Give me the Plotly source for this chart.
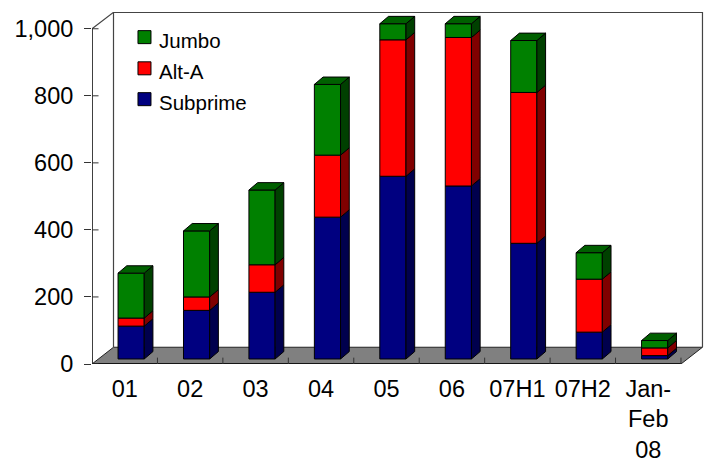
import plotly.graph_objects as go

categories = ["01", "02", "03", "04", "05", "06", "07H1", "07H2", "Jan-<br>Feb<br>08"]
subprime = [98, 145, 199, 423, 545, 516, 345, 80, 10]
alt_a = [24, 40, 82, 185, 407, 443, 450, 158, 23]
jumbo = [134, 197, 223, 211, 48, 41, 155, 79, 22]
y_ticks = [0, 200, 400, 600, 800, 1000]
y_labels = ["0", "200", "400", "600", "800", "1,000"]

W, H = 705, 459
ML, MR, MT, MB = 92, 0, 12, 94.5
XMAX, YMAX = 9.367, 1050
# 3D look, in axis units
WALL_DX, WALL_DY = 0.3285, 50
BAR_SHIFT, BAR_BASE, BAR_W = 0.098, 15, 0.40
SIDE_DX, SIDE_DY = 0.133, 22
# legend layout, in axis units
LEG_X, LEG_TEXT_X = 0.802, 0.99
LEG_Y = [975, 882, 790]

xs = [i + 0.5 + BAR_SHIFT for i in range(len(categories))]
series = [
    ("Subprime", subprime, "#000080", "#00004D"),
    ("Alt-A", alt_a, "#FF0000", "#800000"),
    ("Jumbo", jumbo, "#008000", "#004000"),
]
TOP_COLOR = "#006000"

fig = go.Figure()
bases = [BAR_BASE] * len(categories)
for name, vals, col, side in series:
    fig.add_trace(go.Bar(
        x=xs, y=vals, base=list(bases), name=name, width=BAR_W, showlegend=False,
        marker=dict(color=col, line=dict(color="black", width=1)),
    ))
    px, py = [], []
    for x, b, v in zip(xs, bases, vals):
        xr = x + BAR_W / 2
        px += [xr, xr + SIDE_DX, xr + SIDE_DX, xr, xr, None]
        py += [b, b + SIDE_DY, b + v + SIDE_DY, b + v, b, None]
    fig.add_trace(go.Scatter(
        x=px, y=py, mode="lines", fill="toself", fillcolor=side,
        line=dict(color="black", width=1), showlegend=False, hoverinfo="skip",
    ))
    bases = [b + v for b, v in zip(bases, vals)]

# top faces
px, py = [], []
for x, t in zip(xs, bases):
    xl, xr = x - BAR_W / 2, x + BAR_W / 2
    px += [xl, xl + SIDE_DX, xr + SIDE_DX, xr, xl, None]
    py += [t, t + SIDE_DY, t + SIDE_DY, t, t, None]
fig.add_trace(go.Scatter(
    x=px, y=py, mode="lines", fill="toself", fillcolor=TOP_COLOR,
    line=dict(color="black", width=1), showlegend=False, hoverinfo="skip",
))

# axis lines and inner tick halves
n = len(categories)
fig.add_trace(go.Scatter(
    x=[0, 0, None, 0, n], y=[0, y_ticks[-1], None, 0, 0], mode="lines",
    line=dict(color="black", width=1.5), showlegend=False, hoverinfo="skip",
    cliponaxis=False,
))
tx, ty = [], []
for t in y_ticks:
    tx += [0, 0.1, None]
    ty += [t, t, None]
for i in range(n + 1):
    tx += [i, i, None]
    ty += [0, 19, None]
fig.add_trace(go.Scatter(
    x=tx, y=ty, mode="lines", line=dict(color="#333333", width=1),
    showlegend=False, hoverinfo="skip", cliponaxis=False,
))

# legend keys and labels
annotations = []
for (name, _, col, _s), ly in zip(reversed(series), LEG_Y):
    fig.add_trace(go.Scatter(
        x=[LEG_X], y=[ly], mode="markers", name=name, showlegend=False, hoverinfo="skip",
        marker=dict(symbol="square", size=13, color=col, line=dict(color="black", width=1)),
    ))
    annotations.append(dict(x=LEG_TEXT_X, y=ly, xref="x", yref="y", text=name,
                            xanchor="left", yanchor="middle", yshift=-3.5, showarrow=False,
                            font=dict(size=20.5, color="black")))

shapes = [
    dict(type="path", layer="below", xref="x", yref="y",
         path=f"M 0 0 L {WALL_DX} {WALL_DY} L {n + WALL_DX} {WALL_DY} L {n} 0 Z",
         fillcolor="#808080", line=dict(color="#222222", width=1)),
    dict(type="path", layer="below", xref="x", yref="y",
         path=(f"M 0 {y_ticks[-1]} L {WALL_DX} {YMAX - 1} L {n + WALL_DX} {YMAX - 1} "
               f"L {n + WALL_DX} {WALL_DY} M {WALL_DX} {YMAX - 1} L {WALL_DX} {WALL_DY}"),
         line=dict(color="#444444", width=1.2)),
]

font = "Liberation Sans, Arial, sans-serif"
fig.update_layout(
    width=W, height=H, margin=dict(l=ML, r=MR, t=MT, b=MB, pad=0, autoexpand=False),
    paper_bgcolor="white", plot_bgcolor="white", showlegend=False,
    barmode="overlay", shapes=shapes, annotations=annotations,
    font=dict(family=font, color="black", size=23.5),
    xaxis=dict(range=[0, XMAX], tickmode="array", automargin=False,
               tickvals=[i + 0.5 for i in range(n)], ticktext=categories,
               showgrid=False, zeroline=False, showline=False, ticks="",
               ticklabelstandoff=8, tickfont=dict(size=23.5)),
    yaxis=dict(range=[0, YMAX], tickmode="array", tickvals=y_ticks, ticktext=y_labels,
               automargin=False, showgrid=False, zeroline=False, showline=False, ticks="outside",
               ticklen=7, tickcolor="#333333", ticklabelstandoff=6, tickfont=dict(size=23.5)),
)
fig.write_html("out.html", config={"displayModeBar": False},
               post_script="document.body.style.margin='0';document.documentElement.style.overflow='hidden';")
